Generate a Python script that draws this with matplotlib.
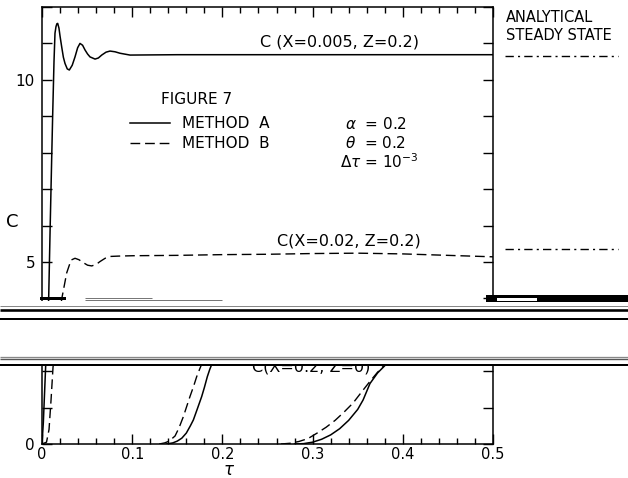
import matplotlib
matplotlib.use("Agg")
import matplotlib.pyplot as plt
from matplotlib.lines import Line2D
from matplotlib.patches import Rectangle

plt.rcParams['font.family'] = ['DejaVu Sans']
plt.rcParams['mathtext.fontset'] = 'dejavusans'

# ---------------- data ----------------
# Method A (solid), C(X=0.005, Z=0.2)
tau_a1 = [0.0, 0.0015, 0.003, 0.0045, 0.006, 0.0074, 0.009, 0.0107, 0.0118, 0.0133,
          0.0144, 0.0155, 0.0165, 0.0174, 0.0188, 0.020, 0.0218, 0.0237, 0.0255, 0.028,
          0.0303, 0.0335, 0.0366, 0.0395, 0.0421, 0.045, 0.0477, 0.0505, 0.0532, 0.0588,
          0.0625, 0.0662, 0.071, 0.0754, 0.081, 0.0865, 0.0976, 0.15, 0.2, 0.3, 0.4, 0.5]
c_a1 = [0.0, 0.6, 1.5, 2.4, 3.2, 4.0, 5.9, 7.8, 9.0, 10.5,
        11.28, 11.46, 11.54, 11.55, 11.42, 11.2, 10.91, 10.62, 10.45, 10.3,
        10.27, 10.4, 10.63, 10.88, 11.0, 10.95, 10.82, 10.71, 10.63, 10.57,
        10.6, 10.68, 10.76, 10.79, 10.77, 10.73, 10.68, 10.69, 10.69, 10.69, 10.69, 10.69]

# Method B (dashed), C(X=0.02, Z=0.2)
tau_b1 = [0.0, 0.005, 0.0078, 0.010, 0.0122, 0.016, 0.022, 0.0274, 0.0322, 0.0366,
          0.041, 0.0458, 0.0505, 0.0551, 0.060, 0.0643, 0.070, 0.0754, 0.085, 0.101,
          0.15, 0.2, 0.25, 0.3, 0.35, 0.4, 0.45, 0.5]
c_b1 = [0.0, 0.05, 0.4, 1.2, 2.1, 3.0, 4.0, 4.7, 5.05, 5.10,
        5.06, 4.98, 4.91, 4.89, 4.93, 5.01, 5.10, 5.15, 5.16, 5.17,
        5.18, 5.20, 5.21, 5.23, 5.24, 5.22, 5.18, 5.14]

# Middle pair of curves
tau_b2 = [0.130, 0.136, 0.141, 0.1475, 0.152, 0.1567, 0.160, 0.164, 0.168, 0.1715,
          0.175, 0.178, 0.181]
c_b2 = [0.0, 0.03, 0.08, 0.22, 0.45, 0.75, 1.0, 1.3, 1.58, 1.85, 2.07, 2.25, 2.45]
tau_a2 = [0.138, 0.145, 0.150, 0.155, 0.160, 0.1645, 0.1678, 0.172, 0.177, 0.180,
          0.1833, 0.186, 0.190, 0.194]
c_a2 = [0.0, 0.03, 0.08, 0.16, 0.3, 0.5, 0.66, 0.95, 1.3, 1.55, 1.85, 2.05, 2.3, 2.55]

# Right pair of curves, C(X=0.2, Z=0)
tau_b3 = [0.265, 0.275, 0.285, 0.295, 0.305, 0.315, 0.325, 0.335, 0.345, 0.355,
          0.3636, 0.372, 0.381, 0.39]
c_b3 = [0.0, 0.02, 0.07, 0.15, 0.3, 0.46, 0.65, 0.88, 1.13, 1.45, 1.72, 1.97, 2.2, 2.45]
tau_a3 = [0.28, 0.29, 0.30, 0.31, 0.32, 0.33, 0.34, 0.35, 0.356, 0.3636, 0.372, 0.382, 0.39]
c_a3 = [0.0, 0.01, 0.05, 0.13, 0.25, 0.42, 0.65, 0.95, 1.21, 1.66, 1.95, 2.2, 2.42]

# Analytical steady state values
steady_values = [10.66, 5.35]

x_ticks = [0, 0.1, 0.2, 0.3, 0.4, 0.5]
x_tick_labels = ["0", "0.1", "0.2", "0.3", "0.4", "0.5"]
y_ticks = list(range(0, 13))
y_tick_labels = ["0", "", "", "", "", "5", "", "", "", "", "10", "", ""]

# ---------------- figure ----------------
W, H = 628, 478
fig = plt.figure(figsize=(W / 100, H / 100), dpi=100)


def fx(px):
    return px / W


def fy(py):
    return 1 - py / H


ax = fig.add_axes([fx(42), fy(444), fx(493) - fx(42), fy(7) - fy(444)])
ax.set_xlim(0, 0.5)
ax.set_ylim(0, 12.0)
for s in ax.spines.values():
    s.set_linewidth(1.1)

dash = (0, (7, 3.5))
ax.plot(tau_a1, c_a1, color='k', lw=1.1)
ax.plot(tau_b1, c_b1, color='k', lw=1.0, ls=dash)
ax.plot(tau_a2, c_a2, color='k', lw=1.1)
ax.plot(tau_b2, c_b2, color='k', lw=1.0, ls=dash)
ax.plot(tau_a3, c_a3, color='k', lw=1.1)
ax.plot(tau_b3, c_b3, color='k', lw=1.0, ls=dash)

ax.hlines(steady_values, 0.513, 0.639, colors='k', lw=1.0,
          linestyles=[(0, (6, 3, 1.5, 3))], clip_on=False)

ax.set_xticks(x_ticks)
ax.set_xticklabels(x_tick_labels, fontsize=10.5)
ax.set_xticks([i * 0.02 for i in range(26)], minor=True)
ax.set_yticks(y_ticks)
ax.set_yticklabels(y_tick_labels, fontsize=11)
ax.tick_params(which='both', direction='in', top=True, right=True, width=1.0)
ax.tick_params(which='major', length=7.5)
ax.tick_params(which='minor', length=4.5)
ax.tick_params(axis='x', which='major', pad=2)
ax.tick_params(axis='y', which='major', pad=5)

# curve labels
ax.text(0.3293, 11.04, "C (X=0.005, Z=0.2)", ha='center', va='center', fontsize=11.5)
ax.text(0.3400, 5.57, "C(X=0.02, Z=0.2)", ha='center', va='center', fontsize=11.5)
ax.text(0.2982, 1.98, "C(X=0.2, Z=0)", ha='center', va='baseline', fontsize=11.5,
        clip_on=True)

# other text
fig.text(fx(197), fy(100), "FIGURE 7", ha='center', va='center', fontsize=11)
fig.text(fx(345), fy(124), r"$\alpha$  = 0.2", ha='left', va='center', fontsize=11)
fig.text(fx(345), fy(143), r"$\theta$  = 0.2", ha='left', va='center', fontsize=11)
fig.text(fx(340), fy(162), r"$\Delta\tau$ = 10$^{-3}$", ha='left', va='center', fontsize=11)
fig.text(fx(506), fy(17), "ANALYTICAL", ha='left', va='center', fontsize=10.5)
fig.text(fx(506), fy(35), "STEADY STATE", ha='left', va='center', fontsize=10.5)
fig.text(fx(12), fy(222), "C", ha='center', va='center', fontsize=13)
fig.text(fx(229), fy(475), r"$\tau$", ha='center', va='baseline', fontsize=12)

handles = [Line2D([], [], color='k', lw=1.1),
           Line2D([], [], color='k', lw=1.0, ls=dash)]
leg = ax.legend(handles, ["METHOD  A", "METHOD  B"], loc='upper left',
                bbox_to_anchor=(fx(130), fy(116)), bbox_transform=fig.transFigure,
                frameon=False, fontsize=11, handlelength=2.6, handletextpad=0.8,
                labelspacing=0.35, borderpad=0, borderaxespad=0)

# ---------------- scan artifacts (band) ----------------
fig.add_artist(Rectangle((0, fy(364.5)), 1, fy(300.5) - fy(364.5), transform=fig.transFigure,
                         facecolor='white', edgecolor='none', zorder=10))


def hline_px(y, x0, x1, lw_px, color):
    fig.add_artist(Line2D([fx(x0), fx(x1)], [fy(y), fy(y)], transform=fig.transFigure,
                          color=color, lw=lw_px * 0.72, zorder=11, solid_capstyle='butt'))


def rect_px(x0, y0, x1, y1, color):
    fig.add_artist(Rectangle((fx(x0), fy(y1)), fx(x1) - fx(x0), fy(y0) - fy(y1),
                             transform=fig.transFigure, facecolor=color, edgecolor='none',
                             zorder=11))


hline_px(306, 0, 628, 1.0, '#888888')
hline_px(309.8, 0, 628, 2.6, 'black')
hline_px(319.2, 0, 628, 2.0, 'black')
hline_px(356.5, 0, 628, 1.3, '#888888')
hline_px(359.2, 0, 628, 1.4, '#555555')
hline_px(365.2, 0, 628, 2.0, 'black')
hline_px(297.5, 85, 152, 1.0, '#777777')
hline_px(299.5, 85, 222, 1.0, '#777777')
rect_px(40, 296.5, 66, 300, 'black')
rect_px(486, 295.5, 628, 301.5, 'black')
rect_px(497, 298, 537, 300.5, 'white')

fig.savefig("out.png", dpi=100)
